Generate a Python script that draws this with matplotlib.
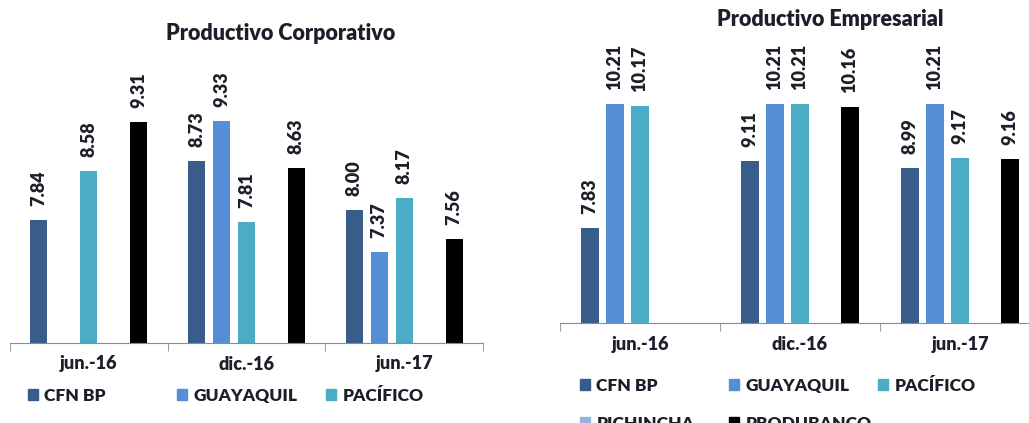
import matplotlib.pyplot as plt
import matplotlib.patches as mpatches
import numpy as np

plt.rcParams['font.family'] = ['Lato', 'DejaVu Sans']

# data
periods = ['jun.-16', 'dic.-16', 'jun.-17']
banks = ['CFN BP', 'GUAYAQUIL', 'PACÍFICO', 'PICHINCHA', 'PRODUBANCO']
colors = ['#385D8A', '#558ED5', '#4BACC6', '#95B3D7', '#000000']

corp_cfn = [7.84, 8.73, 8.00]
corp_guayaquil = [np.nan, 9.33, 7.37]
corp_pacifico = [8.58, 7.81, 8.17]
corp_pichincha = [np.nan, np.nan, np.nan]
corp_produbanco = [9.31, 8.63, 7.56]

emp_cfn = [7.83, 9.11, 8.99]
emp_guayaquil = [10.21, 10.21, 10.21]
emp_pacifico = [10.17, 10.21, 9.17]
emp_pichincha = [np.nan, np.nan, np.nan]
emp_produbanco = [np.nan, 10.16, 9.16]

corp = [corp_cfn, corp_guayaquil, corp_pacifico, corp_pichincha, corp_produbanco]
emp = [emp_cfn, emp_guayaquil, emp_pacifico, emp_pichincha, emp_produbanco]

txt = '#1E1E2A'
W, H = 1029, 423
fig = plt.figure(figsize=(W / 100, H / 100), dpi=100)


def draw(ax, series, ymax, slot):
    x = np.arange(len(periods))
    for k, vals in enumerate(series):
        xs = x + (k - 2) * slot
        ax.bar(xs, vals, slot * 0.69, color=colors[k])
        for xi, v in zip(xs, vals):
            if not np.isnan(v):
                ax.annotate(f'{v:.2f}', (xi, v), xytext=(0, 10), textcoords='offset points',
                            rotation=90, ha='center', va='bottom', fontsize=13,
                            fontweight='heavy', color=txt)
    ax.set_ylim(6, ymax)
    ax.set_xlim(-0.5, len(periods) - 0.5)
    for s in ['top', 'left', 'right']:
        ax.spines[s].set_visible(False)
    ax.spines['bottom'].set_color('#8C8C8C')
    ax.set_yticks([])
    ax.set_xticks(x)
    ax.set_xticklabels(periods, fontsize=13, fontweight='heavy', color=txt)
    ax.tick_params(axis='x', which='major', length=0, pad=9)
    ax.set_xticks(np.arange(-0.5, len(periods)), minor=True)
    ax.tick_params(axis='x', which='minor', length=6, color='#8C8C8C')


def legend(x0, ytop, step):
    handles = [mpatches.Patch(color=c, label=b) for c, b in zip(colors, banks)]
    cols = [[0, 3], [1, 4], [2]]
    for j, idx in enumerate(cols):
        fig.legend(handles=[handles[i] for i in idx], loc='upper left',
                   bbox_to_anchor=((x0 + j * step) / W, 1 - ytop / H),
                   frameon=False, fontsize=12.5, handlelength=0.6, handleheight=0.6,
                   handletextpad=0.35, labelspacing=1.25, borderpad=0,
                   borderaxespad=0, labelcolor=txt, prop={'weight': 'heavy', 'size': 12.5})


# left panel
ax1 = fig.add_axes([10 / W, 1 - 343 / H, 473 / W, (343 - 60) / H])
draw(ax1, corp, 6 + (343 - 60) / 66.7, 0.1585)
fig.text(281 / W, 1 - 34 / H, 'Productivo Corporativo', ha='center', va='center',
         fontsize=15.5, fontweight='heavy', color=txt)
legend(28, 388, 149)

# right panel
ax2 = fig.add_axes([560 / W, 1 - 323.3 / H, 480 / W, (323.3 - 60) / H])
draw(ax2, emp, 6 + (323.3 - 60) / 52.1, 0.156)
fig.text(830 / W, 1 - 19 / H, 'Productivo Empresarial', ha='center', va='center',
         fontsize=15.5, fontweight='heavy', color=txt)
legend(580, 378, 149)

fig.savefig('out.png', dpi=100)
